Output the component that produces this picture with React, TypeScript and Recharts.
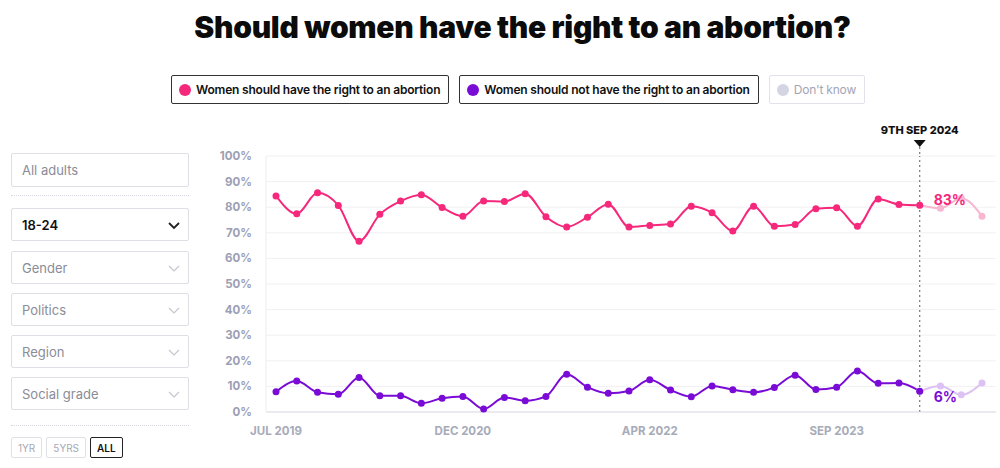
import { LineChart, Line, XAxis, YAxis, CartesianGrid, ReferenceLine, LabelList } from 'recharts';

const pinkValues = [
  84.4, 77.4, 85.6, 80.7, 66.7, 77.2, 82.4, 84.9, 79.9, 76.5,
  82.4, 82.2, 85.3, 76.3, 72.3, 76.1, 81.2, 72.3, 72.9, 73.4,
  80.4, 77.8, 70.7, 80.4, 72.6, 73.2, 79.4, 79.8, 72.6, 83.2,
  81.1, 80.8, 79.6, 83.5, 76.5,
];

const purpleValues = [
  7.9, 12.1, 7.7, 6.9, 13.5, 6.3, 6.3, 3.4, 5.4, 6.1,
  1.2, 5.7, 4.4, 6.1, 14.7, 9.7, 7.3, 8.2, 12.6, 8.6,
  6.0, 10.2, 8.7, 7.7, 9.6, 14.4, 8.8, 9.7, 16.0, 11.2,
  11.3, 8.1, 10.2, 6.7, 11.3,
];

const xTickIndex = [0, 9, 18, 27];
const xTickLabels = ['JUL 2019', 'DEC 2020', 'APR 2022', 'SEP 2023'];
const yTicks = [0, 10, 20, 30, 40, 50, 60, 70, 80, 90, 100];

const markerIndex = 31;
const markerLabel = '9TH SEP 2024';
const endLabels = { pink: '83%', purple: '6%' };

const legendItems = [
  { label: 'Women should have the right to an abortion', color: '#f5287c', active: true },
  { label: 'Women should not have the right to an abortion', color: '#7a0bd6', active: true },
  { label: "Don't know", color: '#d3d5e2', active: false },
];

const filters = ['Gender', 'Politics', 'Region', 'Social grade'];
const ranges = ['1YR', '5YRS', 'ALL'];

const PINK = '#f5287c';
const PINK_FADE = '#f8b6d0';
const PURPLE = '#7a0bd6';
const PURPLE_FADE = '#dcc1f3';
const FONT = 'Inter, "Noto Sans", sans-serif';

const chartData = pinkValues.map((v, i) => ({
  i,
  pink: i <= markerIndex ? v : null,
  pinkFade: i >= markerIndex ? v : null,
  purple: i <= markerIndex ? purpleValues[i] : null,
  purpleFade: i >= markerIndex ? purpleValues[i] : null,
}));

const Chevron = ({ dark }: { dark?: boolean }) => (
  <svg width="12" height="8" style={{ position: 'absolute', right: 8, top: 13 }}>
    <polyline points="1,1 6,6 11,1" fill="none" stroke={dark ? '#222' : '#c4c6d0'} strokeWidth={dark ? 1.8 : 1.2} />
  </svg>
);

const boxStyle = (top: number, height: number): React.CSSProperties => ({
  position: 'absolute', left: 11, top, width: 178, height, border: '1px solid #dedfe5',
  borderRadius: 2, fontFamily: FONT, fontSize: 13, color: '#8a8c98',
  display: 'flex', alignItems: 'center', paddingLeft: 10, boxSizing: 'border-box',
});

const MarkerLabel = (props: any) => {
  const x = props.viewBox.x;
  const y = props.viewBox.y;
  return (
    <g>
      <text x={x} y={y - 22} textAnchor="middle" fontFamily={FONT} fontWeight={800} fontSize={11} fill="#111">
        {markerLabel}
      </text>
      <polygon points={`${x - 6},${y - 16} ${x + 6},${y - 16} ${x},${y - 9}`} fill="#111" />
      <line x1={x} y1={y - 9} x2={x} y2={y} stroke="#777" strokeDasharray="2 3" strokeWidth={1.2} />
    </g>
  );
};

const endLabel = (text: string, color: string, dy: number) => (props: any) => {
  if (props.index !== markerIndex) return null;
  return (
    <text x={props.x + 14} y={props.y + dy} fontFamily={FONT} fontWeight={700} fontSize={14} fill={color} dominantBaseline="middle">
      {text}
    </text>
  );
};

export default function App() {
  return (
    <div style={{ position: 'absolute', left: 0, top: 0, width: 1000, height: 468, background: '#fff', overflow: 'hidden' }}>
      <div style={{ position: 'absolute', left: 0, top: 9, width: 1045, textAlign: 'center', fontFamily: FONT, fontWeight: 900, fontSize: 30, color: '#0b0b0b', letterSpacing: -0.3 }}>
        Should women have the right to an abortion?
      </div>

      <div style={{ position: 'absolute', left: 171, top: 75, display: 'flex', gap: 10 }}>
        {legendItems.map((it) => (
          <div key={it.label} style={{
            height: 27, border: `1px solid ${it.active ? '#333' : '#e2e3ea'}`, borderRadius: 2,
            display: 'flex', alignItems: 'center', padding: '0 8px 0 7px', fontFamily: FONT,
            fontSize: 12, fontWeight: it.active ? 600 : 400, color: it.active ? '#111' : '#a3a5b4', letterSpacing: -0.2,
          }}>
            <span style={{ width: 12, height: 12, borderRadius: 6, background: it.color, marginRight: 5, display: 'inline-block' }} />
            {it.label}
          </div>
        ))}
      </div>

      <div style={boxStyle(153, 34)}>All adults</div>
      <div style={{ position: 'absolute', left: 11, top: 195, width: 178, borderTop: '1px dotted #d8d9e0' }} />
      <div style={{ ...boxStyle(208, 33), color: '#111', fontWeight: 600 }}>18-24<Chevron dark /></div>
      {filters.map((f, k) => (
        <div key={f} style={boxStyle(251 + k * 42, 33)}>{f}<Chevron /></div>
      ))}
      <div style={{ position: 'absolute', left: 11, top: 425, width: 178, borderTop: '1px dotted #d8d9e0' }} />
      <div style={{ position: 'absolute', left: 11, top: 437, display: 'flex', gap: 4 }}>
        {ranges.map((r) => (
          <div key={r} style={{
            height: 19, padding: '0 6px', display: 'flex', alignItems: 'center', fontFamily: FONT, fontSize: 10,
            border: `1px solid ${r === 'ALL' ? '#222' : '#e0e1e7'}`, color: r === 'ALL' ? '#111' : '#a6a8b5',
            fontWeight: r === 'ALL' ? 600 : 400, borderRadius: 2,
          }}>{r}</div>
        ))}
      </div>

      <div style={{ position: 'absolute', left: 200, top: 120 }}>
        <LineChart width={800} height={340} data={chartData} margin={{ top: 36, right: 4, bottom: 18, left: 0 }}>
          <CartesianGrid vertical={false} stroke="#f1f1f5" />
          <XAxis
            dataKey="i"
            type="number"
            domain={[0, pinkValues.length - 1]}
            ticks={xTickIndex}
            tickFormatter={(v: number) => xTickLabels[xTickIndex.indexOf(v)]}
            padding={{ left: 10, right: 14 }}
            height={30}
            axisLine={{ stroke: '#dcdde4' }}
            tickLine={false}
            tickSize={0}
            tickMargin={15}
            tick={{ fontFamily: FONT, fontSize: 11.5, fontWeight: 700, fill: '#a7abb9' }}
          />
          <YAxis
            domain={[0, 100]}
            ticks={yTicks}
            width={66}
            tickFormatter={(v: number) => `${v}%`}
            axisLine={{ stroke: '#ececf1' }}
            tickLine={false}
            tickSize={0}
            tickMargin={14}
            tick={{ fontFamily: FONT, fontSize: 11.5, fontWeight: 700, fill: '#9d9fb4' }}
          />
          <ReferenceLine x={markerIndex} stroke="#777" strokeDasharray="2 3" strokeWidth={1.2} label={<MarkerLabel />} />
          <Line type="monotone" dataKey="pinkFade" stroke={PINK_FADE} strokeWidth={2} dot={{ r: 3.5, fill: PINK_FADE, stroke: 'none' }} isAnimationActive={false} connectNulls={false} />
          <Line type="monotone" dataKey="purpleFade" stroke={PURPLE_FADE} strokeWidth={2} dot={{ r: 3.5, fill: PURPLE_FADE, stroke: 'none' }} isAnimationActive={false} connectNulls={false} />
          <Line type="monotone" dataKey="pink" stroke={PINK} strokeWidth={2} dot={{ r: 3.5, fill: PINK, stroke: 'none' }} isAnimationActive={false}>
            <LabelList dataKey="pink" content={endLabel(endLabels.pink, PINK, -4)} />
          </Line>
          <Line type="monotone" dataKey="purple" stroke={PURPLE} strokeWidth={2} dot={{ r: 3.5, fill: PURPLE, stroke: 'none' }} isAnimationActive={false}>
            <LabelList dataKey="purple" content={endLabel(endLabels.purple, PURPLE, 7)} />
          </Line>
        </LineChart>
      </div>
    </div>
  );
}
